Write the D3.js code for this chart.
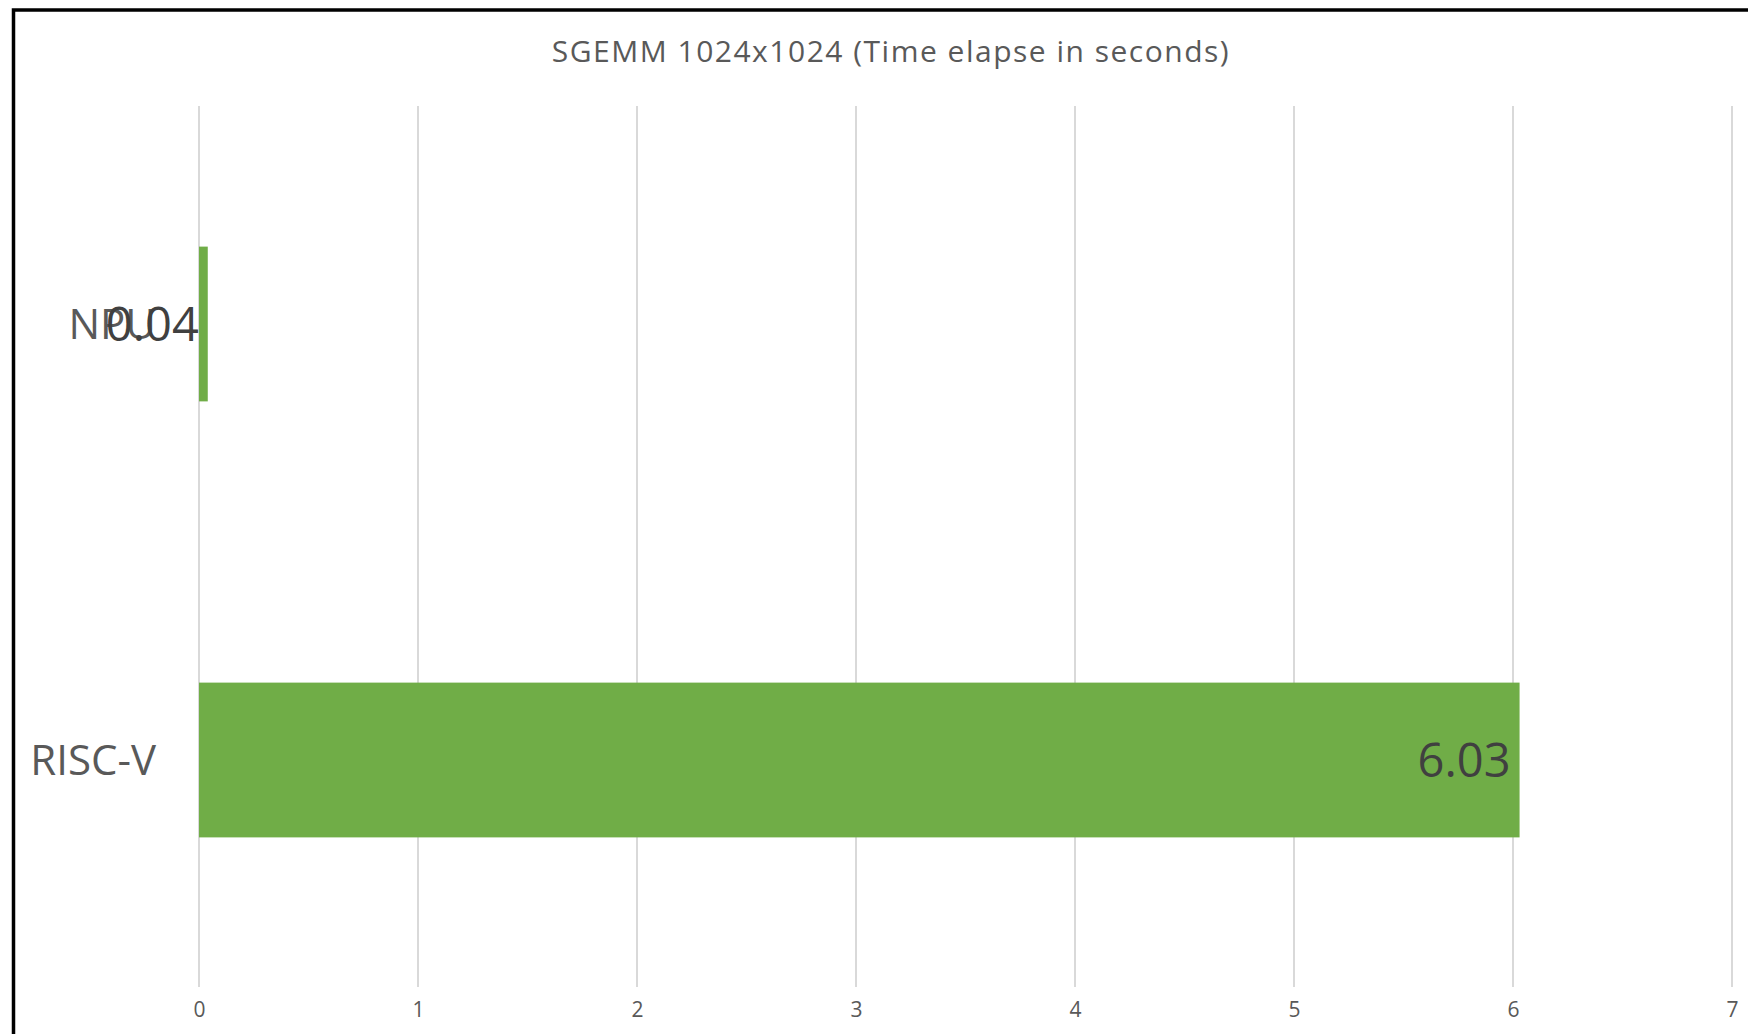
<!DOCTYPE html>
<html>
<head>
<meta charset="utf-8">
<script src="https://cdn.jsdelivr.net/npm/d3@7"></script>
<style>
  html, body { margin: 0; padding: 0; background: #fff; }
  svg { display: block; }
  text { font-family: "Open Sans", "Noto Sans", sans-serif; }
</style>
</head>
<body>
<svg id="chart" width="1748" height="1034"></svg>
<script>
// SGEMM 1024x1024 timing, seconds
const categories = ["NPU", "RISC-V"];
const seconds = [0.04, 6.03];
const valueLabels = ["0.04", "6.03"];
const xTicks = [0, 1, 2, 3, 4, 5, 6, 7];
const title = "SGEMM 1024x1024 (Time elapse in seconds)";

const W = 1748, H = 1034;
const svg = d3.select("#chart");

// chart frame
svg.append("rect")
  .attr("x", 13.5).attr("y", 10)
  .attr("width", W).attr("height", H)
  .attr("fill", "#fff")
  .attr("stroke", "#000").attr("stroke-width", 3.5);

const plot = { left: 199, right: 1732, top: 106, bottom: 978, gridBottom: 987 };

const x = d3.scaleLinear().domain([0, 7]).range([plot.left, plot.right]);
const y = d3.scaleBand().domain(categories).range([plot.top, plot.bottom])
  .paddingInner(0.645).paddingOuter(0.3225);

// vertical gridlines
svg.append("g").selectAll("line").data(xTicks).join("line")
  .attr("x1", d => x(d)).attr("x2", d => x(d))
  .attr("y1", plot.top).attr("y2", plot.gridBottom)
  .attr("stroke", "#d9d9d9").attr("stroke-width", 2);

// x axis tick labels
const xAxis = d3.axisBottom(x).tickValues(xTicks).tickFormat(d3.format("d"))
  .tickSize(0).tickPadding(0);
const gx = svg.append("g").attr("transform", `translate(0,${plot.gridBottom})`).call(xAxis);
gx.select(".domain").remove();
gx.selectAll("text")
  .attr("dy", null).attr("y", 30)
  .attr("font-size", 21).attr("font-family", '"Open Sans", sans-serif')
  .attr("fill", "#595959");

// bars
svg.append("g").selectAll("rect").data(categories).join("rect")
  .attr("x", x(0))
  .attr("y", d => y(d))
  .attr("width", (d, i) => x(seconds[i]) - x(0))
  .attr("height", y.bandwidth())
  .attr("fill", "#70ad47");

// category labels
const yAxis = d3.axisLeft(y).tickSize(0).tickPadding(43);
const gy = svg.append("g").attr("transform", `translate(${plot.left},0)`).call(yAxis);
gy.select(".domain").remove();
gy.selectAll("text")
  .attr("font-size", 42).attr("font-family", '"Open Sans", sans-serif')
  .attr("fill", "#595959").attr("dy", "0.36em");

// value labels at the inside end of each bar
svg.append("g").selectAll("text").data(categories).join("text")
  .attr("x", (d, i) => x(seconds[i]) - 9)
  .attr("y", d => y(d) + y.bandwidth() / 2)
  .attr("dy", "0.36em")
  .attr("text-anchor", "end")
  .attr("font-size", 47)
  .attr("fill", "#404040")
  .text((d, i) => valueLabels[i]);

// title
svg.append("text")
  .attr("x", 891).attr("y", 62)
  .attr("text-anchor", "middle")
  .attr("font-size", 30)
  .attr("letter-spacing", 1.5)
  .attr("fill", "#595959")
  .text(title);
</script>
</body>
</html>
